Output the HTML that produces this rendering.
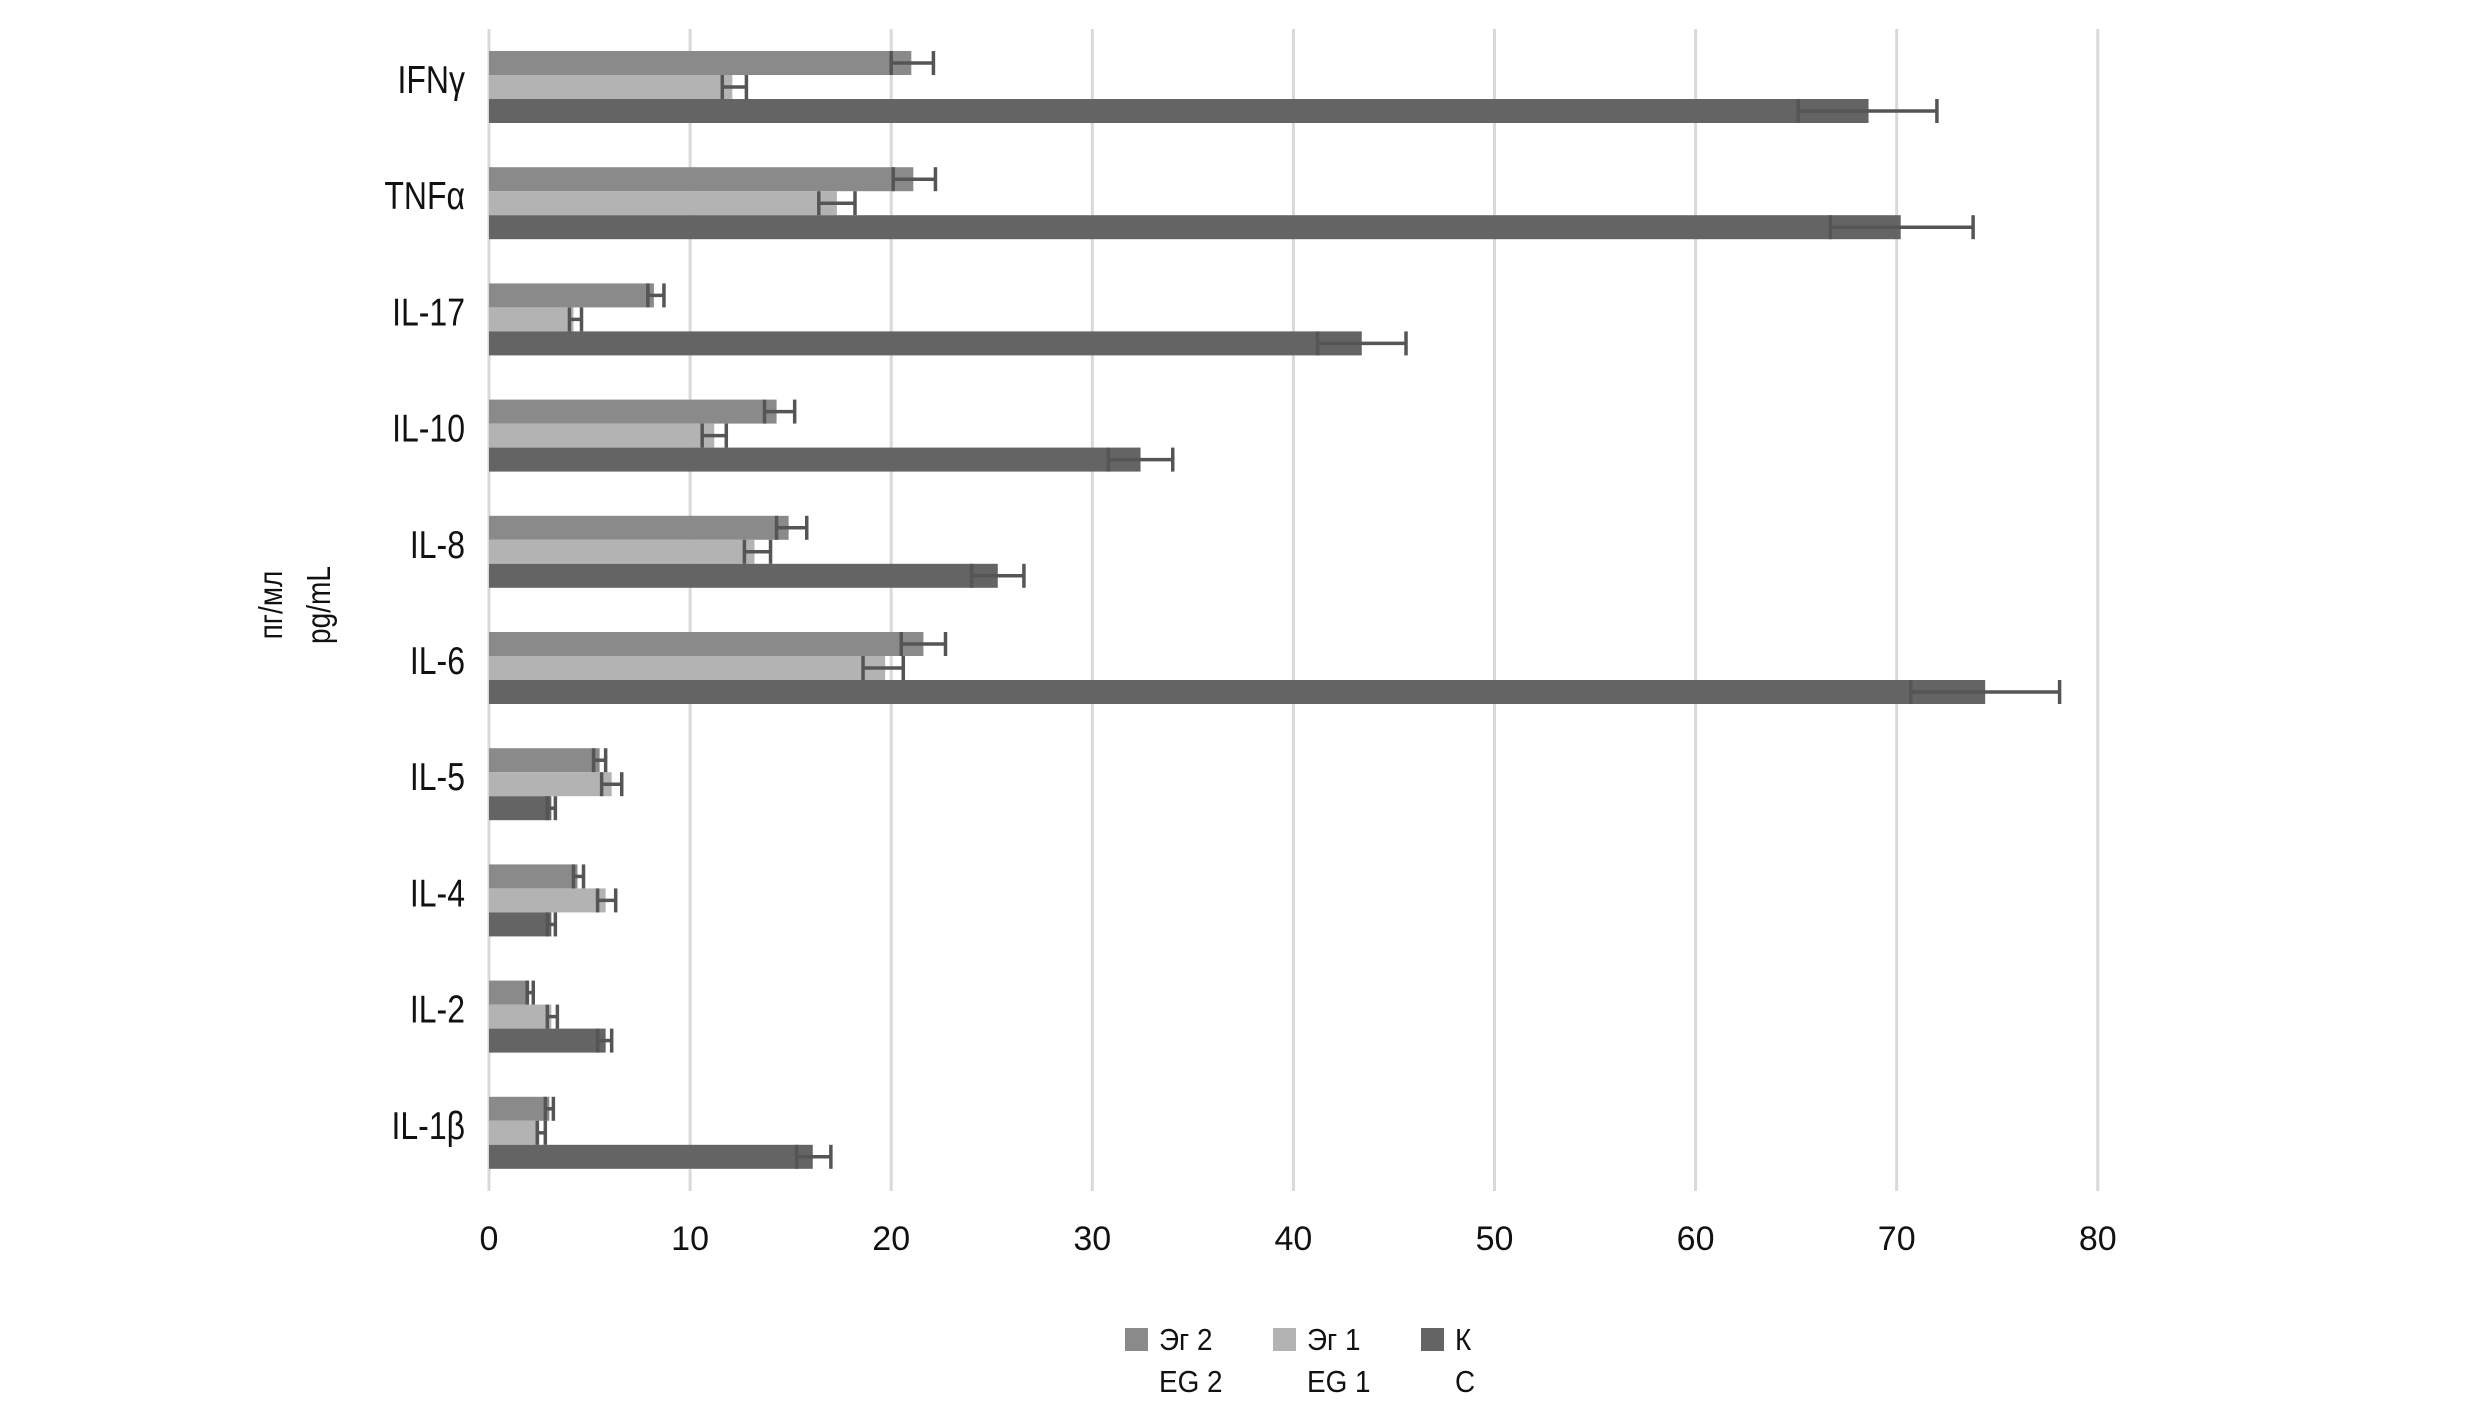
<!DOCTYPE html>
<html><head><meta charset="utf-8"><style>
html,body{margin:0;padding:0;background:#fff;}
svg{display:block;}
text{font-family:"Liberation Sans",sans-serif;fill:#111;}
</style></head><body>
<svg id="c" width="2480" height="1403" viewBox="0 0 2480 1403" xmlns="http://www.w3.org/2000/svg">
<g id="grid" stroke="#d9d9d9" stroke-width="3"></g>
<g id="bars"></g>
<g id="err" stroke="#555" stroke-width="3.5" fill="none"></g>
<g id="lab"></g>
<g font-size="34" text-anchor="middle" id="ticks"></g>
<g font-size="33">
<text transform="translate(282,605) rotate(-90) scale(0.85,1)" text-anchor="middle">пг/мл</text>
<text transform="translate(330,605) rotate(-90) scale(0.85,1)" text-anchor="middle">pg/mL</text>
</g>
<g font-size="31">
<rect x="1125" y="1328" width="23" height="23" fill="#8a8a8a"/>
<text transform="translate(1159,1350) scale(0.9,1)">Эг 2</text><text transform="translate(1159,1392) scale(0.9,1)">EG 2</text>
<rect x="1273" y="1328" width="23" height="23" fill="#b3b3b3"/>
<text transform="translate(1307,1350) scale(0.9,1)">Эг 1</text><text transform="translate(1307,1392) scale(0.9,1)">EG 1</text>
<rect x="1421" y="1328" width="23" height="23" fill="#646464"/>
<text transform="translate(1455,1350) scale(0.9,1)">К</text><text transform="translate(1455,1392) scale(0.9,1)">C</text>
</g>
</svg>
<script>
var x0=489,u=20.11,top0=29,gh=116.2,bh=24;
var ns="http://www.w3.org/2000/svg";
function el(p,t,a,txt){var e=document.createElementNS(ns,t);for(var k in a)e.setAttribute(k,a[k]);if(txt!==undefined)e.textContent=txt;document.getElementById(p).appendChild(e);}
for(var i=0;i<=8;i++){var x=x0+i*10*u;el('grid','line',{x1:x,y1:29,x2:x,y2:1191});el('ticks','text',{x:x,y:1250},String(i*10));}
var d=[
["IFNγ",[21.0,20.0,22.1],[12.1,11.6,12.8],[68.6,65.1,72.0]],
["TNFα",[21.1,20.1,22.2],[17.3,16.4,18.2],[70.2,66.7,73.8]],
["IL-17",[8.2,7.9,8.7],[4.2,4.0,4.6],[43.4,41.2,45.6]],
["IL-10",[14.3,13.7,15.2],[11.2,10.6,11.8],[32.4,30.8,34.0]],
["IL-8",[14.9,14.3,15.8],[13.2,12.7,14.0],[25.3,24.0,26.6]],
["IL-6",[21.6,20.5,22.7],[19.7,18.6,20.6],[74.4,70.7,78.1]],
["IL-5",[5.5,5.2,5.8],[6.1,5.6,6.6],[3.1,2.9,3.3]],
["IL-4",[4.4,4.2,4.7],[5.8,5.4,6.3],[3.1,2.9,3.3]],
["IL-2",[2.0,1.9,2.2],[3.1,2.9,3.4],[5.8,5.4,6.1]],
["IL-1β",[3.0,2.8,3.2],[2.5,2.4,2.8],[16.1,15.3,17.0]]];
var cols=["#8a8a8a","#b3b3b3","#646464"];
d.forEach(function(g,i){var t=top0+gh*i+22;
 el('lab','text',{x:0,y:0,"font-size":39,"text-anchor":"end",transform:"translate(465,"+(t+36+6)+") scale(0.82,1)"},g[0]);
 for(var j=0;j<3;j++){var y=t+j*bh,s=g[j+1];
  el('bars','rect',{x:x0,y:y,width:s[0]*u,height:bh,fill:cols[j]});
  var a=x0+s[1]*u,b=x0+s[2]*u,m=y+bh/2;
  el('err','line',{x1:a,y1:m,x2:b,y2:m});
  el('err','line',{x1:a,y1:y,x2:a,y2:y+bh});
  el('err','line',{x1:b,y1:y,x2:b,y2:y+bh});
 }});
</script>
</body></html>
